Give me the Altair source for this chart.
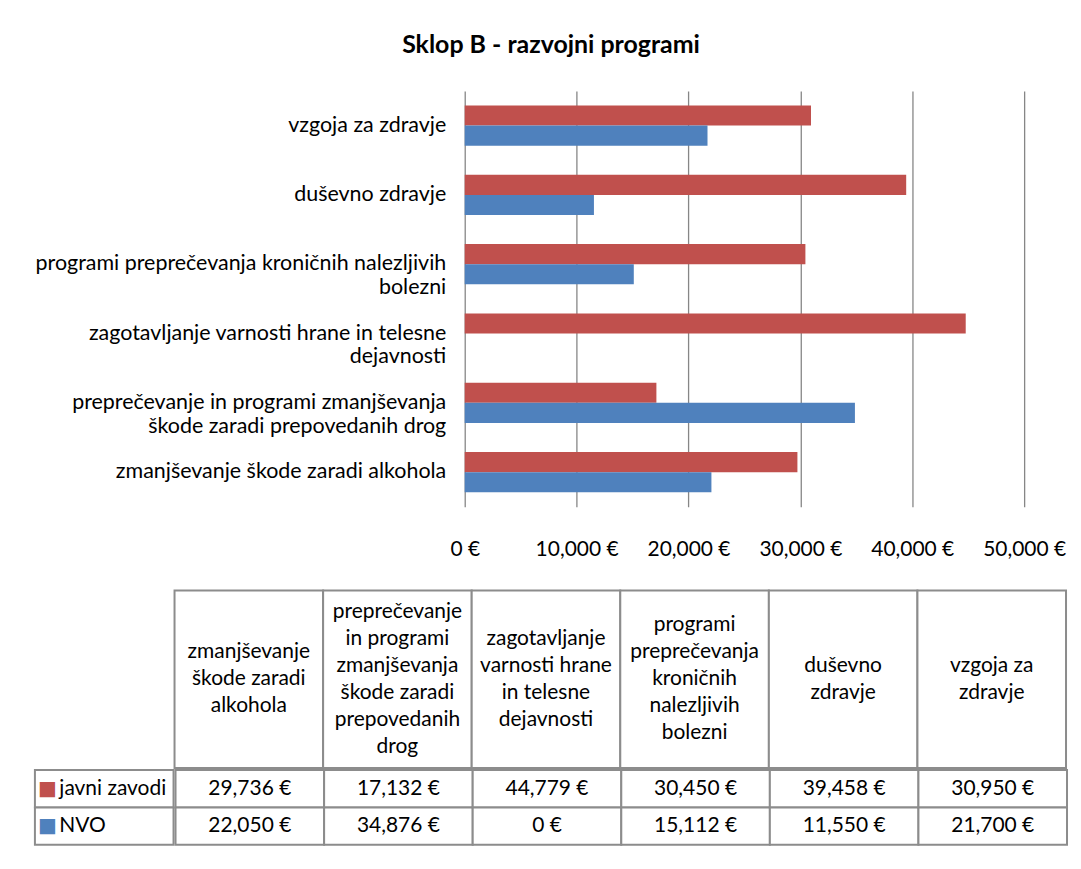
import altair as alt
import pandas as pd
import json

# ---------------- data ----------------
categories = [
    "zmanjševanje škode zaradi alkohola",
    "preprečevanje in programi zmanjševanja škode zaradi prepovedanih drog",
    "zagotavljanje varnosti hrane in telesne dejavnosti",
    "programi preprečevanja kroničnih nalezljivih bolezni",
    "duševno zdravje",
    "vzgoja za zdravje",
]
axis_label_lines = [
    ["zmanjševanje škode zaradi alkohola"],
    ["preprečevanje in programi zmanjševanja", "škode zaradi prepovedanih drog"],
    ["zagotavljanje varnosti hrane in telesne", "dejavnosti"],
    ["programi preprečevanja kroničnih nalezljivih", "bolezni"],
    ["duševno zdravje"],
    ["vzgoja za zdravje"],
]
table_header_lines = [
    ["zmanjševanje", "škode zaradi", "alkohola"],
    ["preprečevanje", "in programi", "zmanjševanja", "škode zaradi", "prepovedanih", "drog"],
    ["zagotavljanje", "varnosti hrane", "in telesne", "dejavnosti"],
    ["programi", "preprečevanja", "kroničnih", "nalezljivih", "bolezni"],
    ["duševno", "zdravje"],
    ["vzgoja za", "zdravje"],
]
series = ["javni zavodi", "NVO"]
javni_zavodi = [29736, 17132, 44779, 30450, 39458, 30950]
nvo = [22050, 34876, 0, 15112, 11550, 21700]
x_ticks = [0, 10000, 20000, 30000, 40000, 50000]
colors = ["#C0504D", "#4F81BD"]

FONT = "Lato"
FS = 21
LABEL_FS = 21.5
GRID = "#868686"
BORDER = "#8C8C8C"
LINE_H = 27

# ---------------- tables ----------------
rows = []
for i, c in enumerate(categories):
    rows.append({"category": c, "series": series[0], "value": javni_zavodi[i]})
    rows.append({"category": c, "series": series[1], "value": nvo[i]})
df = pd.DataFrame(rows)

hdr_df = pd.DataFrame({"category": categories,
                       "text": ["\n".join(l) for l in table_header_lines]})
leg_df = pd.DataFrame({"series": series})

# label expression for multi-line y axis labels
expr = "datum.label"
for c, lines in zip(categories, axis_label_lines):
    expr = f"datum.label == {json.dumps(c, ensure_ascii=False)} ? {json.dumps(lines, ensure_ascii=False)} : ({expr})"

color_scale = alt.Scale(domain=series, range=colors)

# ---------------- bar chart ----------------
# plot region holds the category labels on its left part (431 px), bars on the right (561 px)
bars = alt.Chart(df).mark_bar().encode(
    x=alt.X("value:Q",
            scale=alt.Scale(domain=[0, 50000], nice=False, range=[431, 992]),
            axis=alt.Axis(values=x_ticks, labelExpr="format(datum.value, ',') + ' €'",
                          grid=True, gridColor=GRID, gridWidth=1.3, domain=False,
                          ticks=False, labelPadding=32, labelFontSize=FS,
                          labelFlush=False, title=None, labelColor="#000000",
                          labelFont=FONT)),
    y=alt.Y("category:N", sort=categories[::-1],
            scale=alt.Scale(paddingInner=0.42, paddingOuter=0.21),
            axis=alt.Axis(title=None, domain=False, ticks=False, labelExpr=expr,
                          labelPadding=19, labelFontSize=LABEL_FS, labelLineHeight=24,
                          labelLimit=0, offset=-431, minExtent=0, maxExtent=0,
                          labelColor="#000000", labelFont=FONT)),
    yOffset=alt.YOffset("series:N", sort=series),
    color=alt.Color("series:N", scale=color_scale, legend=None),
).properties(width=992, height=417)

# ---------------- data table ----------------
blank = alt.Chart(pd.DataFrame({"t": [""]})).mark_text().encode(
    text="t:N").properties(width=139, height=178)

hdr_x = alt.X("category:N", sort=categories,
              scale=alt.Scale(domain=categories, paddingInner=0, paddingOuter=0), axis=None)

header = alt.layer(
    alt.Chart(hdr_df).mark_rect(fill="white", stroke=BORDER, strokeWidth=2).encode(x=hdr_x),
    alt.Chart(hdr_df).mark_text(
        lineBreak="\n", lineHeight=LINE_H, fontSize=FS, font=FONT, baseline="middle",
        color="#000000",
        dy=alt.expr(f"-(length(split(datum.text, '\\n')) - 1) * {LINE_H / 2}"),
    ).encode(x=hdr_x, text="text:N"),
).properties(width=894, height=178)

row_y = alt.Y("series:N", sort=series,
              scale=alt.Scale(domain=series, paddingInner=0, paddingOuter=0), axis=None)

legend_col = alt.layer(
    alt.Chart(leg_df).mark_rect(fill="white", stroke=BORDER, strokeWidth=2).encode(y=row_y),
    alt.Chart(leg_df).mark_text(text="■", fontSize=20, font="DejaVu Sans", dx=-57,
                                baseline="middle").encode(
        y=row_y, color=alt.Color("series:N", scale=color_scale, legend=None)),
    alt.Chart(leg_df).mark_text(align="left", dx=-45, fontSize=FS, font=FONT,
                                baseline="middle", color="#000000").encode(
        y=row_y, text="series:N"),
).properties(width=139, height=75)

body = alt.layer(
    alt.Chart(df).mark_rect(fill="white", stroke=BORDER, strokeWidth=2).encode(x=hdr_x, y=row_y),
    alt.Chart(df).mark_text(fontSize=FS, font=FONT, color="#000000", baseline="middle").encode(
        x=hdr_x, y=row_y, text=alt.Text("label:N")).transform_calculate(
        label="format(datum.value, ',') + ' €'"),
).properties(width=894, height=75)

table = alt.vconcat(
    alt.hconcat(blank, header, spacing=0),
    alt.hconcat(legend_col, body, spacing=0),
    spacing=0,
)

chart = alt.vconcat(bars, table, spacing=30).properties(
    title=alt.Title("Sklop B - razvojni programi", fontSize=25, font=FONT,
                    fontWeight="bold", color="#000000", offset=33, anchor="middle"),
    padding={"left": 26, "top": 24, "right": 5, "bottom": 5},
    background="white",
).configure_view(stroke=None)

chart.save("out.html", embed_options={"renderer": "svg", "actions": False})
